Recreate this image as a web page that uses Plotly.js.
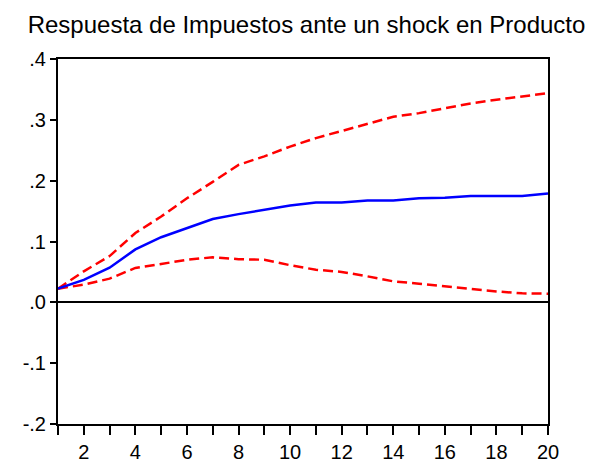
<!DOCTYPE html>
<html>
<head>
<meta charset="utf-8">
<script src="https://cdn.plot.ly/plotly-3.0.1.min.js"></script>
<style>html,body{margin:0;padding:0;background:#fff;}#chart{width:601px;height:464px;}</style>
</head>
<body>
<div id="chart"></div>
<script>
const periods = [1,2,3,4,5,6,7,8,9,10,11,12,13,14,15,16,17,18,19,20];
const response = [0.0225,0.037,0.057,0.087,0.107,0.122,0.137,0.145,0.152,0.159,0.164,0.164,0.1675,0.1675,0.171,0.172,0.175,0.175,0.175,0.179];
const upperBand = [0.0225,0.051,0.076,0.114,0.141,0.171,0.198,0.226,0.240,0.256,0.270,0.282,0.293,0.305,0.311,0.319,0.327,0.333,0.338,0.344];
const lowerBand = [0.0225,0.029,0.039,0.0565,0.063,0.070,0.074,0.071,0.070,0.061,0.0536,0.050,0.0427,0.0345,0.0306,0.026,0.0224,0.018,0.0148,0.0142];
const xTickVals = [2,4,6,8,10,12,14,16,18,20];
const xTickText = ['2','4','6','8','10','12','14','16','18','20'];
const yTickVals = [-0.2,-0.1,0,0.1,0.2,0.3,0.4];
const yTickText = ['-.2','-.1','.0','.1','.2','.3','.4'];
const titleText = 'Respuesta de Impuestos ante un shock en Producto';

const traces = [
  {x: periods, y: upperBand, mode: 'lines', line: {color: '#ff0000', width: 2.5, dash: '10px,5px'}, hoverinfo: 'skip'},
  {x: periods, y: lowerBand, mode: 'lines', line: {color: '#ff0000', width: 2.5, dash: '10px,5px'}, hoverinfo: 'skip'},
  {x: periods, y: response, mode: 'lines', line: {color: '#0000ff', width: 2.5}, hoverinfo: 'skip'}
];
const layout = {
  width: 601, height: 464,
  margin: {l: 58, r: 53, t: 59, b: 40},
  paper_bgcolor: '#fff', plot_bgcolor: '#fff',
  showlegend: false,
  font: {family: '"Liberation Sans", Arial, sans-serif', color: '#000', size: 20},
  title: {text: titleText, x: 0.51, xanchor: 'center', y: 0.948, yanchor: 'middle', font: {size: 24, color: '#000'}},
  xaxis: {
    range: [1, 20], tickvals: xTickVals, ticktext: xTickText,
    ticks: 'outside', ticklen: 9, tickwidth: 2, tickcolor: '#000',
    minor: {tickvals: [1,3,5,7,9,11,13,15,17,19], ticks: 'outside', ticklen: 9, tickwidth: 2, tickcolor: '#000'},
    showgrid: false, zeroline: false, showline: true, linecolor: '#000', linewidth: 2, mirror: true,
    tickfont: {size: 20}
  },
  yaxis: {
    range: [-0.2, 0.4], tickvals: yTickVals, ticktext: yTickText,
    ticks: 'outside', ticklen: 6, tickwidth: 2, tickcolor: '#000',
    showgrid: false, zeroline: true, zerolinecolor: '#000', zerolinewidth: 2,
    showline: true, linecolor: '#000', linewidth: 2, mirror: true,
    tickfont: {size: 20}
  }
};
Plotly.newPlot('chart', traces, layout, {staticPlot: true});
</script>
</body>
</html>
